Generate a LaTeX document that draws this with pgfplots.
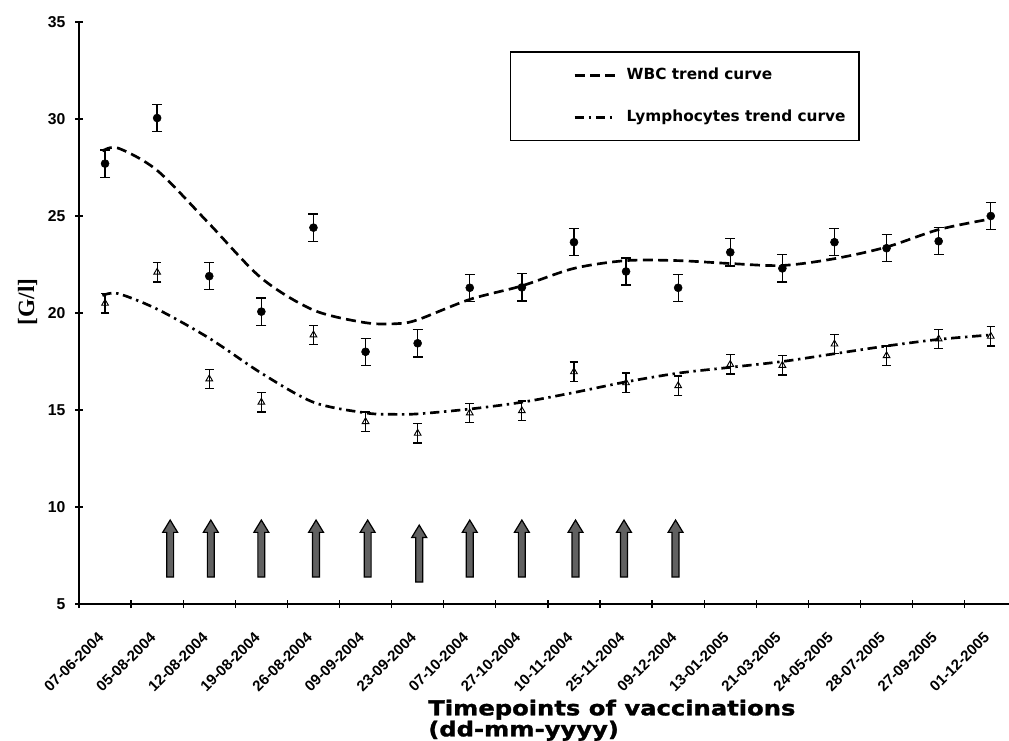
\documentclass[border=0pt]{standalone}
\usepackage{fontspec}
\setmainfont{Liberation Sans}
\newfontfamily\dvs{DejaVu Sans}
\newfontfamily\titlefont{DejaVu Sans}[FakeStretch=1.18, BoldFeatures={FakeBold=1.5}]
\newfontfamily\lserif{Liberation Serif}
\usepackage{pgfplots}
\pgfplotsset{compat=1.18}
\usepackage{pgfplotstable}

\pgfdeclareplotmark{varrow}{%
  \pgfpathmoveto{\pgfqpoint{-2.6pt}{0pt}}%
  \pgfpathlineto{\pgfqpoint{2.6pt}{0pt}}%
  \pgfpathlineto{\pgfqpoint{2.6pt}{33.5pt}}%
  \pgfpathlineto{\pgfqpoint{5.6pt}{33.5pt}}%
  \pgfpathlineto{\pgfqpoint{0pt}{42.75pt}}%
  \pgfpathlineto{\pgfqpoint{-5.6pt}{33.5pt}}%
  \pgfpathlineto{\pgfqpoint{-2.6pt}{33.5pt}}%
  \pgfpathclose
  \pgfusepathqfillstroke
}

\pgfplotstableread{
x y e
1 27.7 0.7
2 30.05 0.7
3 21.9 0.7
4 20.07 0.7
5 24.4 0.7
6 18.0 0.7
7 18.44 0.7
8 21.3 0.7
9 21.32 0.7
10 23.65 0.7
11 22.14 0.7
12 21.3 0.7
13 23.13 0.7
14 22.3 0.7
15 23.65 0.7
16 23.34 0.7
17 23.7 0.7
18 25.0 0.7
}\wbc

\pgfplotstableread{
x y e
1 20.5 0.5
2 22.1 0.5
3 16.6 0.5
4 15.4 0.5
5 18.87 0.5
6 14.4 0.5
7 13.8 0.5
8 14.85 0.5
9 14.96 0.5
10 16.97 0.5
11 16.4 0.5
12 16.25 0.5
13 17.35 0.5
14 17.3 0.5
15 18.4 0.5
16 17.8 0.5
17 18.66 0.5
18 18.8 0.5
}\lym

\pgfplotstableread{
x y
0.95 28.35
1.25 28.5
2 27.35
3 24.6
4 21.8
5 20.15
6 19.5
6.6 19.45
7 19.65
8 20.7
9 21.4
10 22.3
11 22.7
12 22.7
13 22.55
14 22.45
15 22.8
16 23.4
17 24.3
18 24.85
}\wbctrend

\pgfplotstableread{
x y
0.95 20.9
1.25 21.0
2 20.2
3 18.7
4 16.9
5 15.4
6 14.85
6.5 14.78
7 14.8
8 15.05
9 15.4
10 15.9
11 16.45
12 16.9
13 17.2
14 17.5
15 17.9
16 18.3
17 18.64
18 18.87
}\lymtrend

\pgfplotstableread{
x y
2.25 6.39
3.03 6.39
4.0 6.39
5.05 6.39
6.04 6.39
7.03 6.13
8.0 6.39
9.0 6.39
10.03 6.39
10.96 6.39
11.95 6.39
}\arrows

\begin{document}
\begin{tikzpicture}
\begin{axis}[
  at={(59.25pt,102pt)}, anchor=south west,
  scale only axis, width=697.5pt, height=436.5pt,
  xmin=0.5, xmax=18.35, ymin=5, ymax=35,
  clip=false,
  axis x line*=bottom, axis y line*=left,
  axis line style={line width=1.2pt, black},
  ytick={5,10,...,35},
  xtick={1,...,18},
  xticklabels={07-06-2004,05-08-2004,12-08-2004,19-08-2004,26-08-2004,09-09-2004,23-09-2004,07-10-2004,27-10-2004,10-11-2004,25-11-2004,09-12-2004,13-01-2005,21-03-2005,24-05-2005,28-07-2005,27-09-2005,01-12-2005},
  minor xtick={0.5,1.5,...,17.5},
  tick align=center,
  major tick length=6pt, minor tick length=6pt,
  tick style={line width=1pt, black},
  major x tick style={draw=none},
  /pgf/number format/assume math mode=true,
  yticklabel style={font=\bfseries\fontsize{11.8pt}{12pt}\selectfont, anchor=east, inner sep=0pt, xshift=-7pt},
  xticklabel style={font=\bfseries\fontsize{11.25pt}{12pt}\selectfont, xshift=-3pt, yshift=-20pt, rotate=45, anchor=east, inner sep=0pt},
  xlabel={Timepoints of vaccinations\\(dd-mm-yyyy)},
  xlabel style={at={(axis description cs:0.3753,-0.164)}, anchor=north west, align=left, inner sep=0pt, font=\titlefont\bfseries\fontsize{15.4pt}{15.75pt}\selectfont},
  ylabel={[G/l]},
  ylabel style={at={(axis description cs:-0.0554,0.519)}, anchor=center, inner sep=0pt, font=\lserif\bfseries\fontsize{17.5pt}{20pt}\selectfont},
  legend style={at={(axis description cs:0.4634,0.950)}, anchor=north west, draw=black, line width=1.1pt, fill=white,
    inner xsep=10pt, inner ysep=11.5pt, row sep=19.5pt, column sep=7pt,
    font=\dvs\bfseries\fontsize{11.5pt}{13pt}\selectfont,
    nodes={inner sep=0pt, text height=9pt, text depth=3pt}},
  legend cell align=left,
  legend image code/.code={\path (-37pt,0pt) (0pt,0pt); \draw[#1] (0pt,0pt) -- (31pt,0pt);},
]
\addplot[black, line width=2pt, smooth, dash pattern=on 7.5pt off 4pt] table[x=x,y=y] {\wbctrend};
\addlegendentry{WBC trend curve}
\addplot[black, line width=2pt, smooth, dash pattern=on 7pt off 3.5pt on 1.8pt off 3.5pt] table[x=x,y=y] {\lymtrend};
\addlegendentry{Lymphocytes trend curve}

\addplot[forget plot, only marks, mark=*, mark size=3pt, black,
  error bars/.cd, y dir=both, y explicit, error mark=|, error mark options={mark size=3.75pt, line width=1pt, black}, error bar style={line width=1pt, black}]
  table[x=x,y=y,y error=e] {\wbc};
\addplot[forget plot, only marks, mark=triangle, mark size=2.9pt, black, mark options={fill=white, line width=0.7pt},
  error bars/.cd, y dir=both, y explicit, error mark=|, error mark options={mark size=3.2pt, line width=1pt, black}, error bar style={line width=0.9pt, black}]
  table[x=x,y=y,y error=e] {\lym};

\addplot[forget plot, only marks, mark=varrow, mark options={fill=black!62, draw=black, line width=0.9pt}] table[x=x,y=y] {\arrows};
\end{axis}
\pgfresetboundingbox
\path (0,0) rectangle (756.75pt,555pt);
\end{tikzpicture}
\end{document}
